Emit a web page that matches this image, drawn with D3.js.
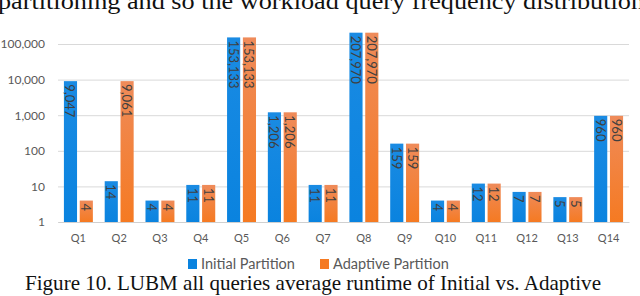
<!DOCTYPE html>
<html>
<head>
<meta charset="utf-8">
<script src="https://cdn.jsdelivr.net/npm/d3@7"></script>
<style>
  body { margin: 0; background: #fff; }
  svg { display: block; }
</style>
</head>
<body>
<div id="chart"></div>
<script>
// data
var categories = ["Q1", "Q2", "Q3", "Q4", "Q5", "Q6", "Q7", "Q8", "Q9", "Q10", "Q11", "Q12", "Q13", "Q14"];
var seriesNames = ["Initial Partition", "Adaptive Partition"];
var initialValues = [9047, 14, 4, 11, 153133, 1206, 11, 207970, 159, 4, 12, 7, 5, 960];
var adaptiveValues = [4, 9061, 4, 11, 153133, 1206, 11, 207970, 159, 4, 12, 7, 5, 960];
var yTicks = [1, 10, 100, 1000, 10000, 100000];

var width = 640, height = 296;
var plot = { left: 58, right: 629, top: 44, bottom: 222 };

var data = categories.map(function (c, i) {
    return { cat: c, values: [initialValues[i], adaptiveValues[i]] };
});

var svg = d3.select("#chart")
    .append("svg")
    .attr("width", width)
    .attr("height", height);

// gradients for the bars
var defs = svg.append("defs");
var colors = [["#1a8be3", "#0a83df"], ["#ef8b5a", "#f57a22"]];
colors.forEach(function (c, i) {
    var g = defs.append("linearGradient")
        .attr("id", "grad" + i)
        .attr("x1", 0).attr("y1", 0).attr("x2", 0).attr("y2", 1);
    g.append("stop").attr("offset", "0%").attr("stop-color", c[0]);
    g.append("stop").attr("offset", "100%").attr("stop-color", c[1]);
});

// surrounding paper text (the top line is cut by the crop, as in the scan)
svg.append("text")
    .attr("x", -2)
    .attr("y", 9)
    .attr("font-family", "Liberation Serif, Times New Roman, serif")
    .attr("font-size", 24)
    .attr("textLength", 646)
    .attr("lengthAdjust", "spacingAndGlyphs")
    .attr("fill", "#111")
    .text("partitioning and so the workload query frequency distribution");

svg.append("text")
    .attr("x", 25)
    .attr("y", 290)
    .attr("font-family", "Liberation Serif, Times New Roman, serif")
    .attr("font-size", 21)
    .attr("textLength", 576)
    .attr("lengthAdjust", "spacingAndGlyphs")
    .attr("fill", "#111")
    .text("Figure 10. LUBM all queries average runtime of Initial vs. Adaptive");

// scales
var x = d3.scaleBand()
    .domain(categories)
    .range([plot.left, plot.right])
    .paddingInner(0.29)
    .paddingOuter(0.145);

var x1 = d3.scaleBand()
    .domain([0, 1])
    .range([0, x.bandwidth()])
    .paddingInner(0.17);

var y = d3.scaleLog()
    .domain([1, 100000])
    .range([plot.bottom, plot.top]);

// y axis with gridlines
var yAxis = svg.append("g")
    .attr("transform", "translate(" + plot.left + ",0)")
    .call(d3.axisLeft(y)
        .tickValues(yTicks)
        .tickFormat(d3.format(","))
        .tickSize(-(plot.right - plot.left))
        .tickPadding(13));
yAxis.select(".domain").remove();
yAxis.selectAll("line").attr("stroke", "#d9d9d9").attr("stroke-width", 1);
yAxis.selectAll("text")
    .attr("font-family", "Lato, Open Sans, sans-serif")
    .attr("font-size", 12)
    .attr("fill", "#595959");

// x axis labels
var xAxis = svg.append("g")
    .attr("transform", "translate(0," + plot.bottom + ")")
    .call(d3.axisBottom(x).tickSize(0).tickPadding(12));
xAxis.select(".domain").attr("stroke", "#d0d0d0");
xAxis.selectAll("text")
    .attr("font-family", "Lato, Open Sans, sans-serif")
    .attr("font-size", 11)
    .attr("fill", "#595959");

// bars
var groups = svg.selectAll("g.group")
    .data(data)
    .enter()
    .append("g")
    .attr("class", "group")
    .attr("transform", function (d) { return "translate(" + x(d.cat) + ",0)"; });

var bars = groups.selectAll("g.bar")
    .data(function (d) { return d.values.map(function (v, i) { return { s: i, v: v }; }); })
    .enter()
    .append("g")
    .attr("class", "bar");

bars.append("rect")
    .attr("x", function (d) { return x1(d.s); })
    .attr("width", x1.bandwidth())
    .attr("y", function (d) { return y(d.v); })
    .attr("height", function (d) { return y(1) - y(d.v); })
    .attr("fill", function (d) { return "url(#grad" + d.s + ")"; });

// value labels, rotated inside the bar top
bars.append("text")
    .attr("transform", function (d) {
        return "translate(" + (x1(d.s) + x1.bandwidth() / 2) + "," + (y(d.v) + 3) + ")rotate(90)";
    })
    .attr("dominant-baseline", "central")
    .attr("font-family", "Lato, Open Sans, sans-serif")
    .attr("font-size", 13)
    .attr("fill", "#404040")
    .text(function (d) { return d3.format(",")(d.v); });

// legend
var legend = svg.append("g");
var legendX = [188, 320];
seriesNames.forEach(function (name, i) {
    legend.append("rect")
        .attr("x", legendX[i])
        .attr("y", 259)
        .attr("width", 9)
        .attr("height", 10)
        .attr("fill", colors[i][1]);
    legend.append("text")
        .attr("x", legendX[i] + 13)
        .attr("y", 269)
        .attr("font-family", "Lato, Open Sans, sans-serif")
        .attr("font-size", 14.5)
        .attr("fill", "#595959")
        .text(name);
});
</script>
</body>
</html>
